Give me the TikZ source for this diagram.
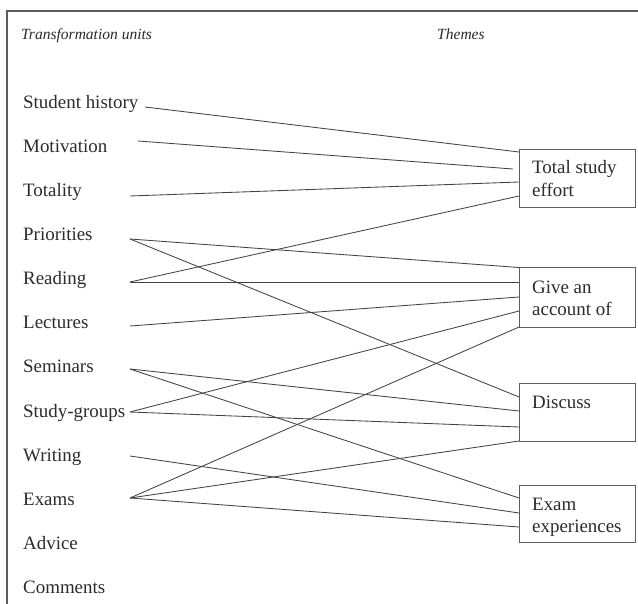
\documentclass[tikz,border=0pt]{standalone}
\usepackage{fontspec}
\setmainfont{Liberation Serif}
\definecolor{ink}{RGB}{45,42,42}
\definecolor{wire}{RGB}{70,66,66}
\definecolor{frame}{RGB}{95,92,92}
\begin{document}
\begin{tikzpicture}[x=1bp,y=-1bp,
  lab/.style={anchor=base west,inner sep=0pt,text=ink,font=\fontsize{19}{22}\selectfont},
  head/.style={anchor=base west,inner sep=0pt,text=ink,font=\fontsize{15.6}{18}\selectfont\itshape},
  themebox/.style={draw=frame,line width=0.9bp,anchor=north west,inner sep=0pt,minimum width=116bp},
  wireline/.style={draw=wire,line width=0.85bp}]
\useasboundingbox (0,0) rectangle (638,604);
% frame
\draw[frame,line width=1.3bp] (7,606) -- (7,11) -- (640,11);
% headers
\node[head] (hl) at (21,40) {Transformation units};
\node[head] (hr) at (437,40) {Themes};
% left labels
\node[lab] (sh)  at (23,108.3) {Student history};
\node[lab] (mot) at (23,152.4) {Motivation};
\node[lab] (tot) at (23,196.5) {Totality};
\node[lab] (pri) at (23,240.6) {Priorities};
\node[lab] (rea) at (23,284.7) {Reading};
\node[lab] (lec) at (23,328.8) {Lectures};
\node[lab] (sem) at (23,372.9) {Seminars};
\node[lab] (stg) at (23,417.0) {Study-groups};
\node[lab] (wri) at (23,461.1) {Writing};
\node[lab] (exa) at (23,505.2) {Exams};
\node[lab] (adv) at (23,549.3) {Advice};
\node[lab] (com) at (23,593.4) {Comments};
% connector start points
\coordinate (sh-o)  at (145,107);
\coordinate (mot-o) at (138,141);
\coordinate (tot-o) at (130,196);
\coordinate (pri-o) at (130,239);
\coordinate (rea-o) at (130,282);
\coordinate (lec-o) at (130,326);
\coordinate (sem-o) at (130,369);
\coordinate (stg-o) at (130,412);
\coordinate (wri-o) at (130,456);
\coordinate (exa-o) at (130,498);
% theme boxes
\node[themebox,minimum height=58bp] (tse) at (519,149) {};
\node[themebox,minimum height=60bp] (gaa) at (519,267) {};
\node[themebox,minimum height=58bp] (dis) at (519,383) {};
\node[themebox,minimum height=57bp] (exe) at (519,485) {};
\node[lab] (tse-t1) at (532,173.3) {Total study};
\node[lab] (tse-t2) at (532,196.7) {effort};
\node[lab] (gaa-t1) at (532,293) {Give an};
\node[lab] (gaa-t2) at (532,315.5) {account of};
\node[lab] (dis-t1) at (532,408) {Discuss};
\node[lab] (exe-t1) at (532,510) {Exam};
\node[lab] (exe-t2) at (532,532) {experiences};
% ports
\coordinate (tse1) at (519,152);
\coordinate (tse2) at (513,169);
\coordinate (tse3) at (519,182);
\coordinate (tse4) at (519,196);
\coordinate (gaa1) at (519,267.5);
\coordinate (gaa2) at (519,282);
\coordinate (gaa3) at (519,297);
\coordinate (gaa4) at (519,311);
\coordinate (gaa5) at (519,327);
\coordinate (dis1) at (519,397);
\coordinate (dis2) at (519,411);
\coordinate (dis3) at (519,427);
\coordinate (dis4) at (519,441);
\coordinate (exe1) at (519,498);
\coordinate (exe2) at (519,513);
\coordinate (exe3) at (519,527);
% connectors
\path[wireline] (sh-o) -- (tse1);
\path[wireline] (mot-o) -- (tse2);
\path[wireline] (tot-o) -- (tse3);
\path[wireline] (rea-o) -- (tse4);
\path[wireline] (pri-o) -- (gaa1);
\path[wireline] (rea-o) -- (gaa2);
\path[wireline] (lec-o) -- (gaa3);
\path[wireline] (stg-o) -- (gaa4);
\path[wireline] (exa-o) -- (gaa5);
\path[wireline] (pri-o) -- (dis1);
\path[wireline] (sem-o) -- (dis2);
\path[wireline] (stg-o) -- (dis3);
\path[wireline] (exa-o) -- (dis4);
\path[wireline] (sem-o) -- (exe1);
\path[wireline] (wri-o) -- (exe2);
\path[wireline] (exa-o) -- (exe3);
\end{tikzpicture}
\end{document}
